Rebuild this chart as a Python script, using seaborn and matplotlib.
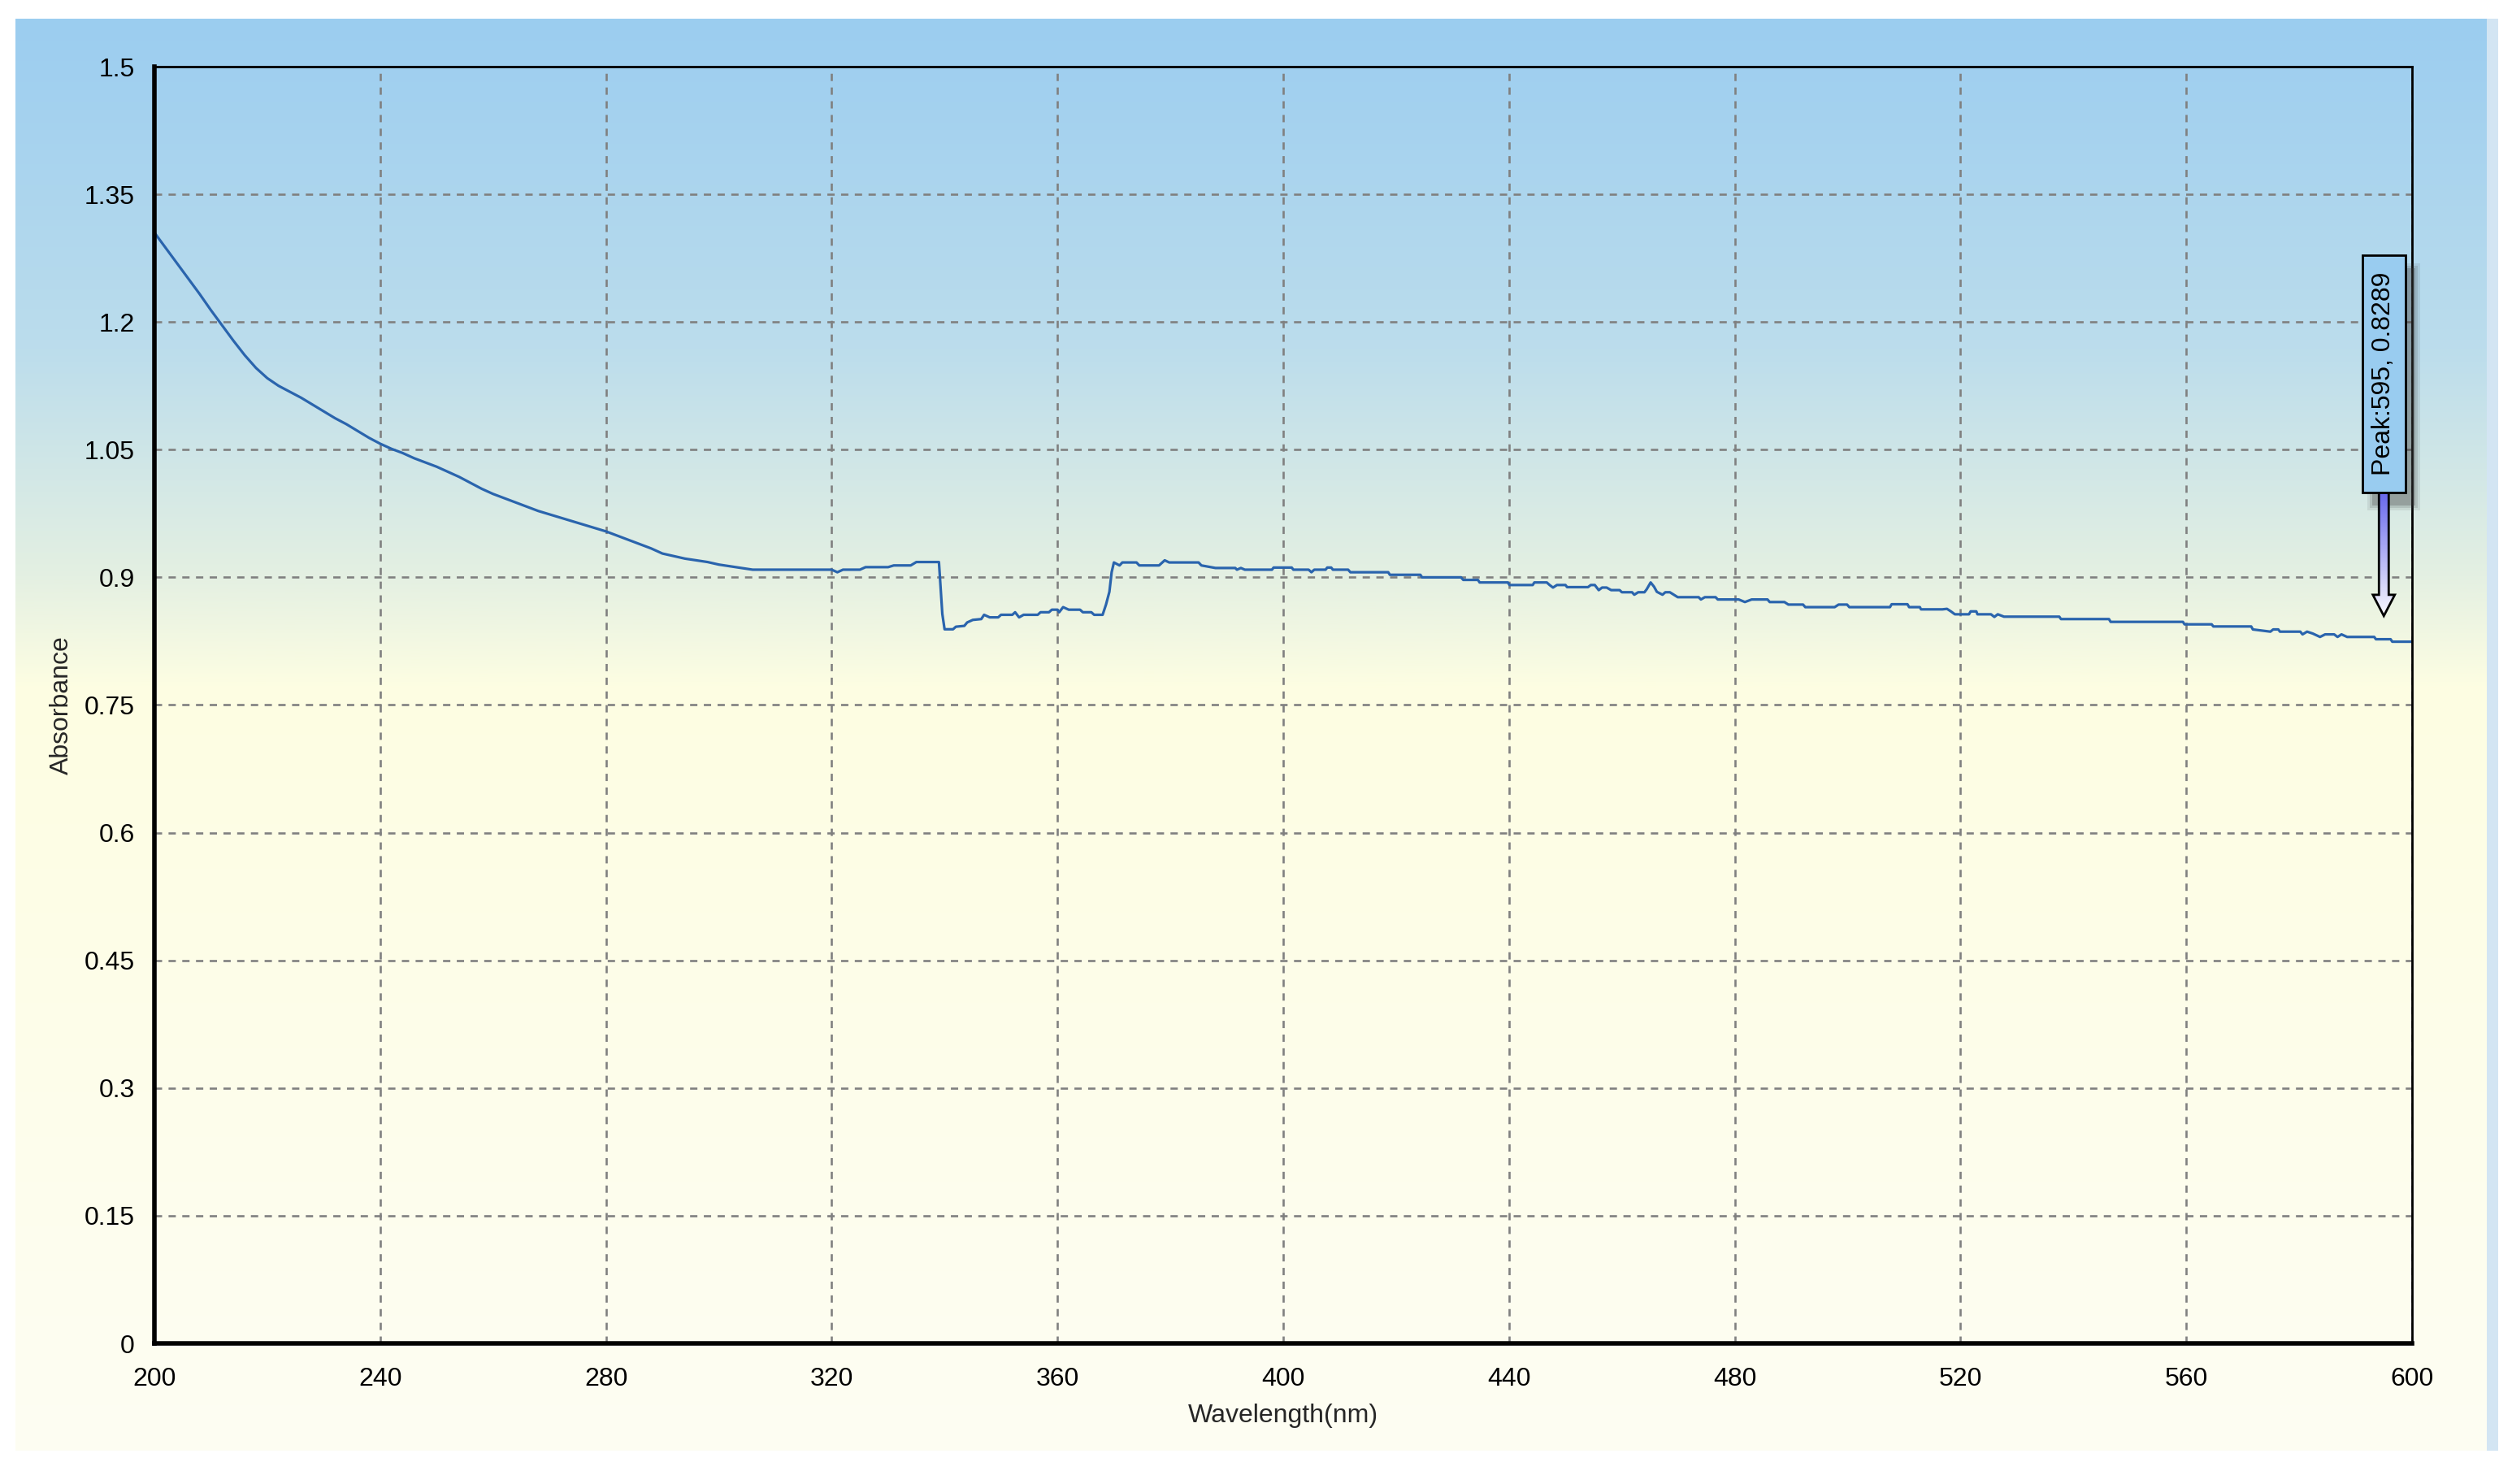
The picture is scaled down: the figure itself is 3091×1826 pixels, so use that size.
"""
UV-Vis absorbance spectrum (200-600 nm) redrawn with seaborn / matplotlib.
Saves out.png (3091 x 1826 px).
"""

import numpy as np
import matplotlib
matplotlib.use("Agg")
import matplotlib.pyplot as plt
import matplotlib.patches as mpatches
from matplotlib.path import Path
from matplotlib.ticker import FixedLocator, MultipleLocator
import seaborn as sns

sns.set_style("white")
plt.rcParams["font.family"] = ["Liberation Sans", "DejaVu Sans"]

# ---------------------------------------------------------------- data
wavelength = [
    200, 202, 204, 206, 208, 210, 212, 214, 216, 218, 220, 222, 224, 226,
    228, 230, 232, 234, 236, 238, 240, 242, 244, 246, 248, 250, 252, 254,
    256, 258, 260, 262, 264, 266, 268, 270, 272, 274, 276, 278, 280, 282,
    284, 286, 288, 290, 292, 294, 296, 298, 300, 302, 304, 306, 310, 316,
    320, 321, 322, 325, 326, 330, 331, 334, 335, 339, 339.6, 340, 341.5,
    342, 343.5, 344, 345, 346.5, 347, 348, 349.5, 350, 352, 352.5, 353.2,
    354, 356.5, 357, 358.5, 359, 360, 360.3, 361, 362, 364, 364.5, 366,
    366.5, 368, 368.6, 369.2, 369.6, 370, 371, 371.5, 374, 374.5, 378, 379,
    379.8, 385, 385.5, 388, 391.5, 391.8, 392.5, 393.2, 398, 398.3, 401.5,
    401.8, 404.5, 405, 405.5, 407.5, 407.8, 408.5, 408.8, 411.5, 411.9,
    418.6, 418.9, 424.3, 424.6, 431.5, 431.9, 434.5, 434.8, 439.8, 440.1,
    444.2, 444.5, 446.7, 447.2, 447.8, 448.5, 450, 450.3, 454, 454.5, 455.2,
    455.9, 456.5, 457.3, 458.1, 459.6, 460, 461.8, 462.2, 462.9, 464, 464.4,
    465.1, 465.7, 466.2, 467.2, 467.7, 468.5, 469.2, 469.9, 473.6, 474,
    474.7, 476.6, 477, 480.7, 481.8, 483, 485.8, 486.2, 488.8, 489.5, 492.1,
    492.5, 497.7, 498.4, 499.9, 500.3, 507.5, 507.8, 510.6, 510.9, 512.8,
    513, 516.8, 517.6, 518.3, 519, 521.5, 521.8, 522.8, 523, 525.4, 526,
    526.6, 527.7, 537.5, 537.8, 546.3, 546.6, 559.4, 559.7, 564.5, 564.8,
    571.5, 571.8, 574.9, 575.4, 576.3, 576.6, 580.2, 580.6, 581.4, 582.4,
    583.7, 584.6, 586.2, 586.8, 587.5, 588.5, 593.3, 593.6, 596.2, 596.5,
    600,
]
absorbance = [
    1.305, 1.287, 1.269, 1.251, 1.233, 1.214, 1.196, 1.178, 1.161, 1.146,
    1.134, 1.125, 1.118, 1.111, 1.103, 1.095, 1.087, 1.080, 1.072, 1.064,
    1.057, 1.051, 1.046, 1.040, 1.035, 1.030, 1.024, 1.018, 1.011, 1.004,
    0.998, 0.993, 0.988, 0.983, 0.978, 0.974, 0.970, 0.966, 0.962, 0.958,
    0.954, 0.949, 0.944, 0.939, 0.934, 0.928, 0.925, 0.922, 0.920, 0.918,
    0.915, 0.913, 0.911, 0.909, 0.909, 0.909, 0.909, 0.906, 0.909, 0.909,
    0.912, 0.912, 0.914, 0.914, 0.918, 0.918, 0.857, 0.839, 0.839, 0.842,
    0.843, 0.847, 0.850, 0.851, 0.856, 0.853, 0.853, 0.856, 0.856, 0.859,
    0.853, 0.856, 0.856, 0.859, 0.859, 0.862, 0.862, 0.859, 0.865, 0.862,
    0.862, 0.859, 0.859, 0.856, 0.856, 0.868, 0.883, 0.906, 0.9175, 0.914,
    0.9175, 0.9175, 0.914, 0.914, 0.920, 0.9175, 0.9175, 0.914, 0.911,
    0.911, 0.909, 0.911, 0.909, 0.909, 0.9115, 0.9115, 0.909, 0.909, 0.906,
    0.909, 0.909, 0.9115, 0.9115, 0.909, 0.909, 0.906, 0.906, 0.903, 0.903,
    0.900, 0.900, 0.897, 0.897, 0.894, 0.894, 0.891, 0.891, 0.894, 0.894,
    0.891, 0.888, 0.891, 0.891, 0.8885, 0.8885, 0.891, 0.891, 0.885, 0.888,
    0.888, 0.885, 0.885, 0.8825, 0.8825, 0.8796, 0.8825, 0.8825, 0.886,
    0.894, 0.889, 0.883, 0.8796, 0.8825, 0.8825, 0.8796, 0.8767, 0.8767,
    0.874, 0.8767, 0.8767, 0.874, 0.874, 0.871, 0.874, 0.874, 0.871, 0.871,
    0.868, 0.868, 0.865, 0.865, 0.868, 0.868, 0.865, 0.865, 0.8684, 0.8684,
    0.865, 0.865, 0.8624, 0.8624, 0.8630, 0.860, 0.8566, 0.8566, 0.860,
    0.860, 0.8566, 0.8566, 0.8535, 0.8566, 0.8538, 0.8538, 0.851, 0.851,
    0.8477, 0.8477, 0.8448, 0.8448, 0.8423, 0.8423, 0.8388, 0.8362, 0.8388,
    0.8388, 0.8362, 0.8362, 0.833, 0.8362, 0.834, 0.830, 0.833, 0.833,
    0.830, 0.833, 0.830, 0.830, 0.8273, 0.8273, 0.8244, 0.8244,
]

peak_wl = 595
peak_abs = 0.8289

x_ticks = [200, 240, 280, 320, 360, 400, 440, 480, 520, 560, 600]
y_ticks = [0, 0.15, 0.3, 0.45, 0.6, 0.75, 0.9, 1.05, 1.2, 1.35, 1.5]
y_tick_labels = ["0", "0.15", "0.3", "0.45", "0.6", "0.75", "0.9",
                 "1.05", "1.2", "1.35", "1.5"]

# ---------------------------------------------------------------- figure
FIG_W, FIG_H, DPI = 3091, 1826, 100
fig = plt.figure(figsize=(FIG_W / DPI, FIG_H / DPI), dpi=DPI)
fig.patch.set_facecolor("white")

# gradient panel behind the plot (pixel coordinates, y down)
bg = fig.add_axes([0, 0, 1, 1], zorder=0)
bg.set_xlim(0, FIG_W)
bg.set_ylim(FIG_H, 0)
bg.axis("off")
p_left, p_right, p_top, p_bottom = 19, 3060, 23, 1785
stops = [0.0, 0.231, 0.389, 0.469, 1.0]
stop_cols = np.array([
    [155, 205, 240],
    [188, 221, 236],
    [228, 240, 226],
    [254, 254, 226],
    [253, 253, 243],
]) / 255.0
rows = np.linspace(0, 1, 600)
grad = np.stack([np.interp(rows, stops, stop_cols[:, c]) for c in range(3)], axis=-1)
bg.imshow(grad[:, None, :], extent=(p_left, p_right, p_bottom, p_top),
          aspect="auto", interpolation="bilinear")
bg.add_patch(mpatches.Rectangle((p_right, p_top), 14, p_bottom - p_top,
                                facecolor="#D3E5F3", edgecolor="none"))

# main axes
ax = fig.add_axes([190 / FIG_W, (FIG_H - 1653) / FIG_H, 2778 / FIG_W, 1571 / FIG_H],
                  zorder=1)
ax.set_facecolor("none")

sns.lineplot(x=wavelength, y=absorbance, ax=ax, color="#2A64AD",
             linewidth=2.3, estimator=None, sort=False)

ax.set_xlim(200, 600)
ax.set_ylim(0, 1.5)
ax.xaxis.set_major_locator(FixedLocator(x_ticks))
ax.xaxis.set_minor_locator(MultipleLocator(10))
ax.yaxis.set_major_locator(FixedLocator(y_ticks))
ax.set_yticklabels(y_tick_labels)
ax.yaxis.set_minor_locator(MultipleLocator(0.0375))

ax.grid(True, which="major", color="#808080", linestyle=(0, (3.4, 3.0)),
        linewidth=1.9)
ax.tick_params(axis="both", which="both", direction="out", color="#808080",
               width=2, labelsize=23, labelcolor="black")
ax.tick_params(axis="x", which="major", length=10, pad=11)
ax.tick_params(axis="x", which="minor", length=6.5)
ax.tick_params(axis="y", which="major", length=8.5, pad=9)
ax.tick_params(axis="y", which="minor", length=4.5)

for side in ["left", "bottom"]:
    ax.spines[side].set_linewidth(4)
    ax.spines[side].set_color("black")
for side in ["top", "right"]:
    ax.spines[side].set_linewidth(2)
    ax.spines[side].set_color("black")

ax.set_xlabel("Wavelength(nm)", fontsize=23, labelpad=11)
ax.set_ylabel("Absorbance", fontsize=23, labelpad=9)

# ---------------------------------------------------------------- peak marker
# overlay axes in display pixels (y up) so the marker can be sized in pixels
ov = fig.add_axes([0, 0, 1, 1], zorder=3)
ov.set_xlim(0, FIG_W)
ov.set_ylim(0, FIG_H)
ov.axis("off")
ov.set_facecolor("none")

px, py = ax.transData.transform((peak_wl, peak_abs))
tip_y = py + 27
head_y = py + 53
box_y0 = py + 179
box_h = 292
box_x0 = px - 26
box_w = 53

# soft shadow
for grow, alpha in [(6, 0.10), (3, 0.15), (0, 0.25)]:
    ov.add_patch(mpatches.Rectangle((box_x0 + 12 - grow, box_y0 - 16 - grow),
                                    box_w + 2 * grow, box_h + 2 * grow,
                                    facecolor="#404040", edgecolor="none",
                                    alpha=alpha, zorder=1))

# arrow with vertical colour gradient
arrow_verts = [
    (px - 6, box_y0), (px + 6, box_y0), (px + 6, head_y), (px + 13.5, head_y),
    (px, tip_y), (px - 13.5, head_y), (px - 6, head_y), (px - 6, box_y0),
]
arrow_codes = [Path.MOVETO] + [Path.LINETO] * 6 + [Path.CLOSEPOLY]
arrow_path = Path(arrow_verts, arrow_codes)
arrow_clip = mpatches.PathPatch(arrow_path, facecolor="none", edgecolor="none")
ov.add_patch(arrow_clip)
a_rows = np.linspace(0, 1, 200)
a_top = np.array([104, 104, 236]) / 255.0
a_bot = np.array([250, 250, 255]) / 255.0
a_grad = a_top[None, :] * (1 - a_rows[:, None]) + a_bot[None, :] * a_rows[:, None]
img = ov.imshow(a_grad[:, None, :], extent=(px - 14, px + 14, tip_y, box_y0),
                origin="upper", aspect="auto", interpolation="bilinear", zorder=2)
img.set_clip_path(arrow_clip)
ov.add_patch(mpatches.PathPatch(arrow_path, facecolor="none", edgecolor="black",
                                linewidth=2, zorder=3))

# label box
ov.add_patch(mpatches.Rectangle((box_x0, box_y0), box_w, box_h,
                                facecolor="#99CCF0", edgecolor="black",
                                linewidth=2, zorder=4))
ov.text(px, box_y0 + box_h / 2, f"Peak:{peak_wl}, {peak_abs}", rotation=90,
        ha="center", va="center", fontsize=23, color="black", zorder=5)

fig.savefig("out.png", dpi=DPI)
print("Saved: out.png")
